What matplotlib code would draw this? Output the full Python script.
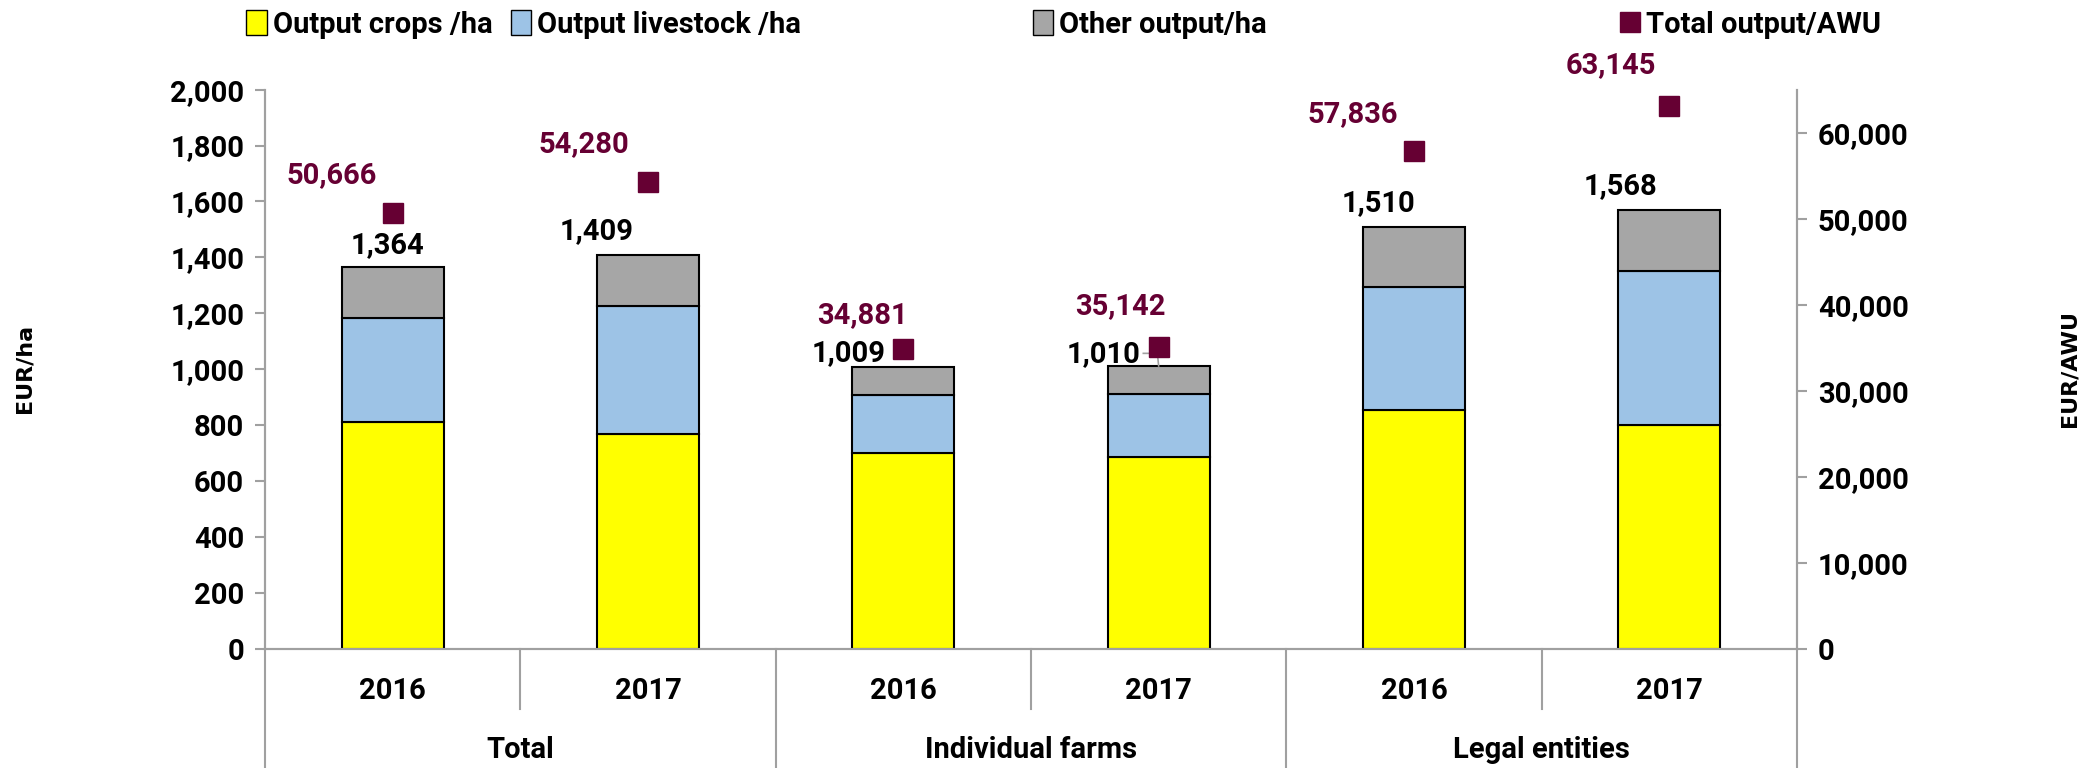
import matplotlib
matplotlib.use("Agg")
import matplotlib.pyplot as plt
from matplotlib import font_manager
from matplotlib.patches import Patch
from matplotlib.lines import Line2D

groups = ["Total", "Individual farms", "Legal entities"]
years = ["2016", "2017", "2016", "2017", "2016", "2017"]
crops = [810, 768, 699, 685, 853, 801]
livestock = [373, 458, 209, 226, 440, 552]
other = [181, 183, 101, 99, 217, 215]
totals = [1364, 1409, 1009, 1010, 1510, 1568]
awu = [50666, 54280, 34881, 35142, 57836, 63145]

# label placement (hand tuned, in data units of the left axis)
tot_dx = [-0.02, -0.20, -0.215, -0.215, -0.14, -0.19]
tot_y = [1445, 1493, 1057, 1053, 1593, 1656]
awu_dx = [-0.24, -0.25, -0.16, -0.15, -0.24, -0.23]
awu_y = [1694, 1804, 1195, 1225, 1914, 2086]

names = [f.name for f in font_manager.fontManager.ttflist]
narrow = "Liberation Sans Narrow" if "Liberation Sans Narrow" in names else "Roboto"
fam = [narrow, "DejaVu Sans"]

c_crop = "#FFFF00"
c_live = "#9DC3E6"
c_other = "#A6A6A6"
c_awu = "#660033"
grey = "#A0A0A0"

fig = plt.figure(figsize=(20.97, 7.68), dpi=100)
ax = fig.add_axes([0.1264, 0.155, 0.7305, 0.7283])
ax2 = ax.twinx()

x = list(range(len(years)))
bot2 = [a + b for a, b in zip(crops, livestock)]
ax.bar(x, crops, width=0.4, color=c_crop, edgecolor="black", linewidth=1.5, zorder=3)
ax.bar(x, livestock, width=0.4, bottom=crops, color=c_live, edgecolor="black", linewidth=1.5, zorder=3)
ax.bar(x, other, width=0.4, bottom=bot2, color=c_other, edgecolor="black", linewidth=1.5, zorder=3)

ax.set_xlim(-0.5, 5.5)
ax.set_ylim(0, 2000)
ax.set_yticks(range(0, 2001, 200))
ax.set_yticklabels([f"{v:,}" for v in range(0, 2001, 200)])
ax2.set_ylim(0, 65000)
ax2.set_yticks(range(0, 60001, 10000))
ax2.set_yticklabels([f"{v:,}" for v in range(0, 60001, 10000)])

ax2.plot(x, awu, linestyle="none", marker="s", markersize=14, color=c_awu, zorder=5)

for a in (ax, ax2):
    a.spines["top"].set_visible(False)
    for s in ["left", "right", "bottom"]:
        a.spines[s].set_color(grey)
        a.spines[s].set_linewidth(1.5)
    a.tick_params(axis="y", length=7, width=1.5, color=grey, pad=8)
    for lab in a.get_yticklabels():
        lab.set_fontfamily(fam)
        lab.set_fontweight("bold")
        lab.set_fontsize(21)
ax.set_xticks([])
ax2.set_xticks([])

# category axis below
for xs in [-0.5, 1.5, 3.5, 5.5]:
    ax.plot([xs, xs], [0, -0.213], transform=ax.get_xaxis_transform(), color=grey, lw=1.5, clip_on=False)
for xs in [0.5, 2.5, 4.5]:
    ax.plot([xs, xs], [0, -0.107], transform=ax.get_xaxis_transform(), color=grey, lw=1.5, clip_on=False)
for i, yr in enumerate(years):
    ax.text(i, -0.075, yr, transform=ax.get_xaxis_transform(), ha="center", va="center",
            fontsize=21, fontweight="bold", family=fam)
for i, g in enumerate(groups):
    ax.text(2 * i + 0.5, -0.18, g, transform=ax.get_xaxis_transform(), ha="center", va="center",
            fontsize=21, fontweight="bold", family=fam)

# value labels
for i in x:
    ax.text(i + tot_dx[i], tot_y[i], f"{totals[i]:,}", ha="center", va="center",
            fontsize=21, fontweight="bold", family=fam, zorder=6, clip_on=False)
    ax.text(i + awu_dx[i], awu_y[i], f"{awu[i]:,}", ha="center", va="center",
            fontsize=21, fontweight="bold", family=fam, color=c_awu, zorder=6, clip_on=False)

# leader line for 1,010
ax.plot([3 - 0.06, 3 - 0.005, 3], [1057, 1057, 1012], color=grey, lw=1.2, zorder=6)

fig.text(0.0115, 0.52, "EUR/ha", rotation=90, ha="center", va="center", fontsize=16, fontweight="bold")
fig.text(0.987, 0.52, "EUR/AWU", rotation=90, ha="center", va="center", fontsize=16, fontweight="bold")

# legend entries
entries = [
    (Patch(facecolor=c_crop, edgecolor="black"), "Output crops /ha", 0.1175),
    (Patch(facecolor=c_live, edgecolor="black"), "Output livestock /ha", 0.2435),
    (Patch(facecolor=c_other, edgecolor="black"), "Other output/ha", 0.4925),
    (Line2D([], [], linestyle="none", marker="s", markersize=14, color=c_awu), "Total output/AWU", 0.7725),
]
for h, lab, xp in entries:
    fig.legend([h], [lab], loc="center left", bbox_to_anchor=(xp, 0.968), frameon=False,
               handlelength=0.7, handleheight=0.9, handletextpad=0.2, borderpad=0, borderaxespad=0,
               prop={"family": fam, "weight": "bold", "size": 21})

fig.savefig("out.png", dpi=100)
